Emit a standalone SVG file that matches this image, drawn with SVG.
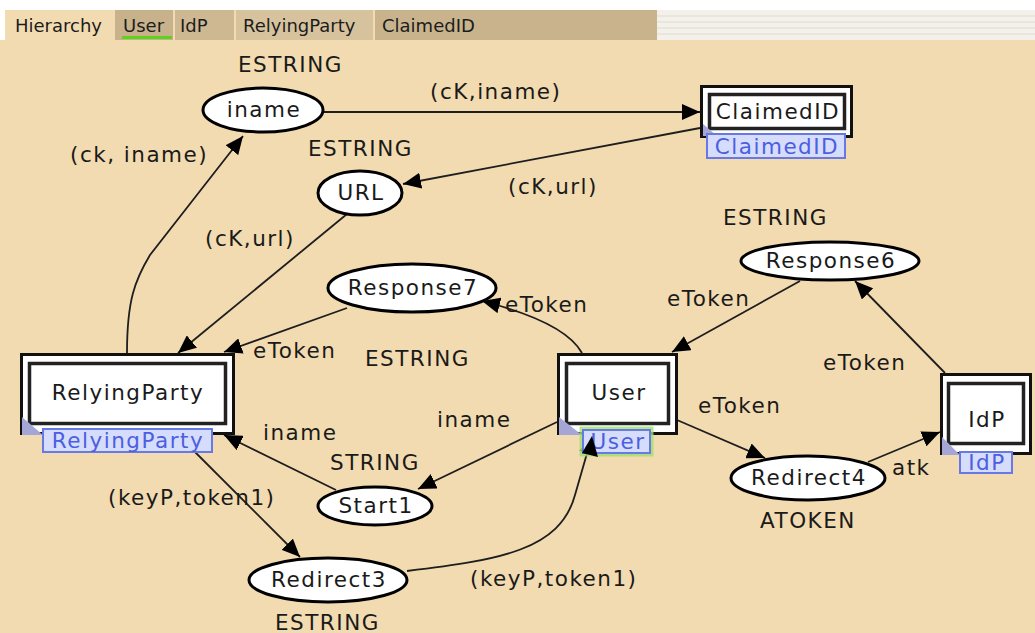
<svg xmlns="http://www.w3.org/2000/svg" width="1035" height="633" viewBox="0 0 1035 633">
  <style>
    .tab { font-family: "DejaVu Sans", Verdana, sans-serif; font-size: 18px; fill: #1c1c1c; }
    .lbl { font-family: "DejaVu Sans", Verdana, sans-serif; font-size: 21.5px; letter-spacing: 1.5px; fill: #1a1a1a; }
    .nt { font-family: "DejaVu Sans", Verdana, sans-serif; font-size: 21.5px; letter-spacing: 1.5px; fill: #1a1a1a; text-anchor: middle; }
    .tagt { font-family: "DejaVu Sans", Verdana, sans-serif; font-size: 21.5px; letter-spacing: 1.5px; fill: #4b5fe0; text-anchor: middle; }
    .place { fill: #ffffff; stroke: #000; stroke-width: 3; }
    .outer { fill: #ffffff; stroke: #111; stroke-width: 3; }
    .inner { fill: #ffffff; stroke: #222; stroke-width: 3.5; }
    .tag { fill: #d6dcfc; stroke: #6878e4; stroke-width: 2; }
    .corner { fill: #a6a6d6; }
    .arc { fill: none; stroke: #1e1e1e; stroke-width: 1.8; marker-end: url(#head); }
  </style>
  <defs>
    <marker id="head" viewBox="0 0 18 16" refX="18" refY="8" markerWidth="18" markerHeight="16" markerUnits="userSpaceOnUse" orient="auto">
      <path d="M0,0 L18,8 L0,16 z" fill="#000"/>
    </marker>
  </defs>

  <!-- canvas and page tabs -->
  <rect x="0" y="0" width="1035" height="633" fill="#f2dbb0"/>
  <rect x="0" y="0" width="1035" height="10" fill="#ffffff"/>
  <rect x="657" y="10" width="378" height="30" fill="#f3f1ea"/>
  <g stroke="#e6e3d8" stroke-width="1.5">
    <line x1="657" y1="16" x2="1035" y2="16"/>
    <line x1="657" y1="22" x2="1035" y2="22"/>
    <line x1="657" y1="28" x2="1035" y2="28"/>
    <line x1="657" y1="34" x2="1035" y2="34"/>
  </g>
  <rect x="0" y="10" width="5" height="30" fill="#ffffff"/>
  <rect x="5" y="10" width="110" height="30" fill="#f2dbb0"/>
  <rect x="115" y="10" width="58" height="30" fill="#c7b28b"/>
  <rect x="175" y="10" width="59" height="30" fill="#cdb892"/>
  <rect x="236" y="10" width="137" height="30" fill="#d6c39e"/>
  <rect x="375" y="10" width="282" height="30" fill="#c8b38d"/>
  <rect x="122" y="36" width="50" height="3" fill="#5fd21e"/>
  <text class="tab" x="15" y="32">Hierarchy</text>
  <text class="tab" x="123" y="32">User</text>
  <text class="tab" x="180" y="32">IdP</text>
  <text class="tab" x="243" y="32">RelyingParty</text>
  <text class="tab" x="382" y="32">ClaimedID</text>

  <!-- connectors -->
  <g id="arcs">
    <path class="arc" d="M323,112 L700,112"/>
    <path class="arc" d="M700,128 L403,184"/>
    <path class="arc" d="M347,214 L178,353"/>
    <path class="arc" d="M347,308 L224,352"/>
    <path class="arc" d="M127,353 C127,300 135,280 150,255 L243,136"/>
    <path class="arc" d="M582,353 Q565,322 482,301"/>
    <path class="arc" d="M800,281 L672,352"/>
    <path class="arc" d="M945,373 L855,281"/>
    <path class="arc" d="M677,420 L765,458"/>
    <path class="arc" d="M868,462 L940,432"/>
    <path class="arc" d="M557,422 L418,489"/>
    <path class="arc" d="M336,490 L224,435"/>
    <path class="arc" d="M195,452 L300,557"/>
    <path class="arc" d="M407,571 C500,560 560,550 575,495 L592,436"/>
  </g>

  <!-- arc inscriptions -->
  <g id="arc-labels">
    <text class="lbl" x="430" y="99">(cK,iname)</text>
    <text class="lbl" x="70" y="162">(ck, iname)</text>
    <text class="lbl" x="508" y="194">(cK,url)</text>
    <text class="lbl" x="205" y="246">(cK,url)</text>
    <text class="lbl" x="505" y="312">eToken</text>
    <text class="lbl" x="667" y="306">eToken</text>
    <text class="lbl" x="253" y="358">eToken</text>
    <text class="lbl" x="823" y="370">eToken</text>
    <text class="lbl" x="698" y="413">eToken</text>
    <text class="lbl" x="263" y="440">iname</text>
    <text class="lbl" x="437" y="427">iname</text>
    <text class="lbl" x="108" y="505">(keyP,token1)</text>
    <text class="lbl" x="892" y="475">atk</text>
    <text class="lbl" x="470" y="586">(keyP,token1)</text>
  </g>

  <!-- places -->
  <g id="place-iname">
    <text class="lbl" x="238" y="72">ESTRING</text>
    <ellipse class="place" cx="263" cy="110" rx="60" ry="22"/>
    <text class="nt" x="264" y="117">iname</text>
  </g>
  <g id="place-url">
    <text class="lbl" x="308" y="156">ESTRING</text>
    <ellipse class="place" cx="360" cy="193" rx="42" ry="22"/>
    <text class="nt" x="361" y="200">URL</text>
  </g>
  <g id="place-response7">
    <ellipse class="place" cx="412" cy="288" rx="84" ry="24"/>
    <text class="nt" x="413" y="295">Response7</text>
    <text class="lbl" x="365" y="366">ESTRING</text>
  </g>
  <g id="place-response6">
    <text class="lbl" x="723" y="225">ESTRING</text>
    <ellipse class="place" cx="830" cy="261" rx="89" ry="19"/>
    <text class="nt" x="831" y="268">Response6</text>
  </g>
  <g id="place-start1">
    <text class="lbl" x="330" y="470">STRING</text>
    <ellipse class="place" cx="375" cy="506" rx="57" ry="19"/>
    <text class="nt" x="376" y="513">Start1</text>
  </g>
  <g id="place-redirect3">
    <ellipse class="place" cx="328" cy="580" rx="79" ry="22"/>
    <text class="nt" x="329" y="587">Redirect3</text>
    <text class="lbl" x="275" y="630">ESTRING</text>
  </g>
  <g id="place-redirect4">
    <ellipse class="place" cx="808" cy="478" rx="77" ry="22"/>
    <text class="nt" x="809" y="485">Redirect4</text>
    <text class="lbl" x="760" y="528">ATOKEN</text>
  </g>

  <!-- substitution transitions -->
  <g id="trans-claimedid">
    <rect class="outer" x="701.5" y="86.5" width="150" height="50"/>
    <rect class="inner" x="709.5" y="94.5" width="135" height="34"/>
    <polygon class="corner" points="703,124 703,136 717,136"/>
    <text class="nt" x="778" y="119">ClaimedID</text>
    <rect class="tag" x="707" y="134" width="138" height="24"/>
    <text class="tagt" x="777" y="154">ClaimedID</text>
  </g>
  <g id="trans-relyingparty">
    <rect class="outer" x="21.5" y="354.5" width="212" height="79"/>
    <rect class="inner" x="29.5" y="363.5" width="196" height="60"/>
    <polygon class="corner" points="22,417 22,435 43,435"/>
    <text class="nt" x="128" y="400">RelyingParty</text>
    <rect class="tag" x="43" y="429" width="169" height="23"/>
    <text class="tagt" x="128" y="448">RelyingParty</text>
  </g>
  <g id="trans-user">
    <rect class="outer" x="558.5" y="354.5" width="118" height="79"/>
    <rect class="inner" x="566.5" y="363.5" width="102" height="60"/>
    <polygon class="corner" points="559,417 559,435 582,435"/>
    <text class="nt" x="619" y="400">User</text>
    <rect x="581" y="428" width="71" height="27" fill="none" stroke="#9ee070" stroke-width="3" opacity="0.8"/>
    <rect class="tag" x="583" y="430" width="67" height="23"/>
    <text class="tagt" x="618" y="449">User</text>
  </g>
  <g id="trans-idp">
    <rect class="outer" x="941.5" y="374.5" width="89" height="79"/>
    <rect class="inner" x="948.5" y="383.5" width="75" height="60"/>
    <polygon class="corner" points="942,437 942,455 960,455"/>
    <text class="nt" x="987" y="427">IdP</text>
    <rect class="tag" x="960" y="452" width="52" height="21"/>
    <text class="tagt" x="987" y="470">IdP</text>
  </g>

  <!-- arrowhead into the User tag sits over the tag -->
  <path d="M592,436 L582,453 L598,457 z" fill="#000"/>
</svg>
